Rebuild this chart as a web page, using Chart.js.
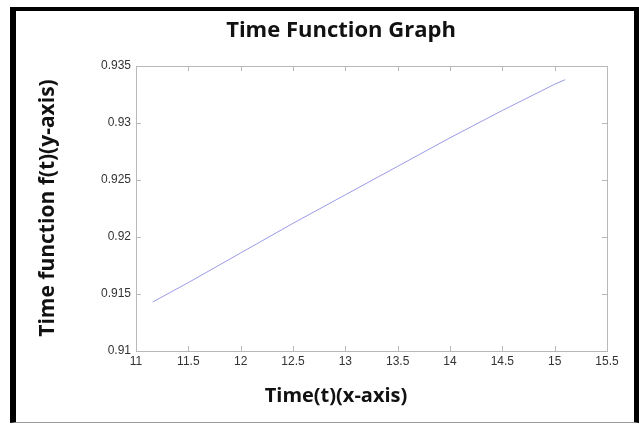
<!DOCTYPE html>
<html>
<head>
<meta charset="utf-8">
<script src="https://cdn.jsdelivr.net/npm/chart.js@4.4.1/dist/chart.umd.min.js"></script>
<style>
  html, body { margin: 0; padding: 0; background: #fff; }
  #wrap { position: relative; width: 639px; height: 424px; }
  #frame {
    position: absolute; left: 10px; top: 7px; width: 618px; height: 411px;
    border-left: 6px solid #000; border-top: 4px solid #000;
    border-right: 5px solid #000; border-bottom: 1px solid #999;
    pointer-events: none;
  }
</style>
</head>
<body>
<div id="wrap">
  <canvas id="chart" width="639" height="424"></canvas>
  <div id="frame"></div>
</div>
<script>
// values
const timeValues = [11.16, 11.5, 12, 12.5, 13, 13.5, 14, 14.5, 15, 15.1];
const funcValues = [0.9143, 0.9160, 0.9186, 0.9212, 0.9237, 0.9262, 0.9287, 0.9311, 0.9334, 0.9338];

const xTicks = [11, 11.5, 12, 12.5, 13, 13.5, 14, 14.5, 15, 15.5];
const yTicks = [0.91, 0.915, 0.92, 0.925, 0.93, 0.935];

const titleText = "Time Function Graph";
const xTitle = "Time(t)(x-axis)";
const yTitle = "Time function f(t)(y-axis)";

const titleFont = "bold 22px 'Open Sans'";
const xTitleFont = "bold 20px 'Open Sans'";
const yTitleFont = "bold 21px 'Open Sans'";

// box + inward tick marks, matlab style
const boxPlugin = {
  id: "box",
  afterDraw(chart) {
    const { ctx, chartArea: a, scales } = chart;
    ctx.save();
    ctx.strokeStyle = "#b8b8b8";
    ctx.lineWidth = 1;
    ctx.strokeRect(a.left + 0.5, a.top + 0.5, a.right - a.left, a.bottom - a.top);
    ctx.beginPath();
    xTicks.forEach((v) => {
      const x = Math.round(scales.x.getPixelForValue(v)) + 0.5;
      ctx.moveTo(x, a.bottom); ctx.lineTo(x, a.bottom - 5);
      ctx.moveTo(x, a.top); ctx.lineTo(x, a.top + 5);
    });
    yTicks.forEach((v) => {
      const y = Math.round(scales.y.getPixelForValue(v)) + 0.5;
      ctx.moveTo(a.left, y); ctx.lineTo(a.left + 5, y);
      ctx.moveTo(a.right, y); ctx.lineTo(a.right - 5, y);
    });
    ctx.stroke();

    ctx.fillStyle = "#111";
    ctx.textAlign = "center";
    ctx.textBaseline = "alphabetic";
    ctx.font = titleFont;
    ctx.fillText(titleText, 341, 37);
    ctx.font = xTitleFont;
    ctx.fillText(xTitle, 336, 402);
    ctx.font = yTitleFont;
    ctx.translate(54, 208);
    ctx.rotate(-Math.PI / 2);
    ctx.fillText(yTitle, 0, 0);
    ctx.restore();
  },
};

new Chart(document.getElementById("chart"), {
  type: "line",
  data: {
    datasets: [{
      data: timeValues.map((t, i) => ({ x: t, y: funcValues[i] })),
      borderColor: "#9a9ae8",
      borderWidth: 1,
      pointRadius: 0,
      tension: 0,
      fill: false,
    }],
  },
  options: {
    responsive: false,
    animation: false,
    layout: { padding: { top: 66, right: 32, left: 0, bottom: 0 } },
    plugins: { legend: { display: false }, tooltip: { enabled: false } },
    scales: {
      x: {
        type: "linear",
        min: 11,
        max: 15.5,
        afterFit: (s) => { s.height = 73; },
        afterBuildTicks: (s) => { s.ticks = xTicks.map((v) => ({ value: v })); },
        grid: { display: false, drawTicks: false },
        border: { display: false },
        ticks: {
          color: "#333",
          font: { family: "Liberation Sans", size: 12 },
          padding: 3,
          maxRotation: 0,
          callback: (v) => String(v),
        },
      },
      y: {
        min: 0.91,
        max: 0.935,
        afterFit: (s) => { s.width = 136; },
        afterBuildTicks: (s) => { s.ticks = yTicks.map((v) => ({ value: v })); },
        grid: { display: false, drawTicks: false },
        border: { display: false },
        ticks: {
          color: "#333",
          font: { family: "Liberation Sans", size: 12 },
          padding: 5,
          callback: (v) => String(+v.toFixed(4)),
        },
      },
    },
  },
  plugins: [boxPlugin],
});
</script>
</body>
</html>
